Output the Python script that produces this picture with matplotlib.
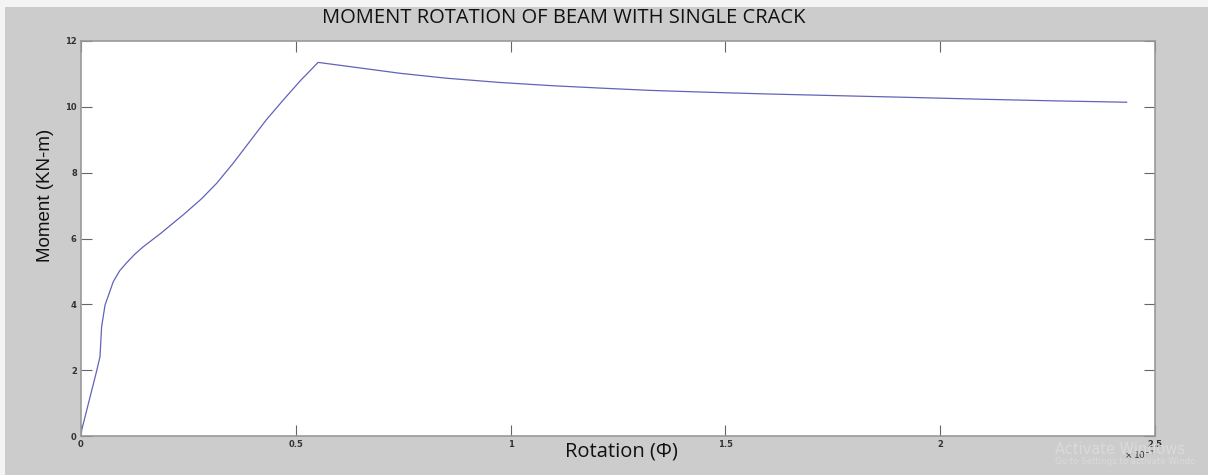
import matplotlib
matplotlib.use("Agg")
import matplotlib.pyplot as plt
from matplotlib.patches import Rectangle

# Data (rotation in units of 1e-3, moment in kN-m)
rotation = [0.0, 0.0016, 0.0365, 0.0442, 0.048, 0.056, 0.0752, 0.09, 0.106,
            0.125, 0.145, 0.184, 0.238, 0.28, 0.316, 0.355, 0.393, 0.431,
            0.471, 0.511, 0.552, 0.65, 0.742, 0.85, 0.975, 1.1, 1.208,
            1.324, 1.441, 1.6, 1.79, 1.95, 2.1, 2.27, 2.434]
moment = [0.0, 0.18, 1.98, 2.41, 3.32, 3.98, 4.69, 5.02, 5.26,
          5.52, 5.75, 6.14, 6.72, 7.2, 7.68, 8.3, 8.95, 9.6,
          10.21, 10.8, 11.35, 11.18, 11.02, 10.87, 10.74, 10.64, 10.57,
          10.50, 10.45, 10.39, 10.33, 10.28, 10.23, 10.18, 10.14]
xticks = [0, 0.5, 1, 1.5, 2, 2.5]
xticklabels = ["0", "0.5", "1", "1.5", "2", "2.5"]
yticks = [0, 2, 4, 6, 8, 10, 12]
yticklabels = ["0", "2", "4", "6", "8", "10", "12"]

fig = plt.figure(figsize=(12.08, 4.75), dpi=100)
fig.patch.set_facecolor("#cccccc")
# white border strips of screenshot
fig.add_artist(Rectangle((0, 1 - 7/475), 1, 7/475, transform=fig.transFigure,
                         facecolor="#f4f4f4", edgecolor="none"))
fig.add_artist(Rectangle((0, 0), 5/1208, 1, transform=fig.transFigure,
                         facecolor="#f4f4f4", edgecolor="none"))

ax = fig.add_axes([81/1208, 1 - 436/475, (1155 - 81)/1208, (436 - 41)/475])
ax.plot(rotation, moment, color="#6262b8", lw=0.9)
ax.set_xlim(0, 2.5)
ax.set_ylim(0, 12)
ax.set_xticks(xticks)
ax.set_xticklabels(xticklabels)
ax.set_yticks(yticks)
ax.set_yticklabels(yticklabels)
ax.tick_params(direction="in", top=True, right=True, length=8, width=0.8,
               color="#666666", labelsize=6, labelcolor="#333333", pad=3)
for lab in ax.get_xticklabels() + ax.get_yticklabels():
    lab.set_fontweight("bold")
for s in ax.spines.values():
    s.set_color("#999999")
    s.set_linewidth(1.2)

fig.text(564/1208, 1 - 18/475, "MOMENT ROTATION OF BEAM WITH SINGLE CRACK",
         ha="center", va="center", fontsize=14.5, family="Open Sans", color="#111111")
fig.text(621/1208, 1 - 451/475, "Rotation (\u03a6)", ha="center", va="center",
         fontsize=14.5, family="Open Sans", color="#111111")
fig.text(45/1208, 1 - 195/475, "Moment (KN-m)", ha="center", va="center",
         rotation=90, fontsize=13.5, family="Liberation Sans", color="#111111")
fig.text(1140/1208, 1 - 455/475, r"$\times\,10^{-3}$", ha="center", va="center",
         fontsize=6.5, color="#333333", fontweight="bold")
fig.text(1055/1208, 1 - 450/475, "Activate Windows", ha="left", va="center",
         fontsize=10.5, color="#dadada")
fig.text(1055/1208, 1 - 462/475, "Go to Settings to activate Windo", ha="left",
         va="center", fontsize=6.2, color="#dadada")

fig.savefig("out.png", dpi=100, facecolor=fig.get_facecolor())
